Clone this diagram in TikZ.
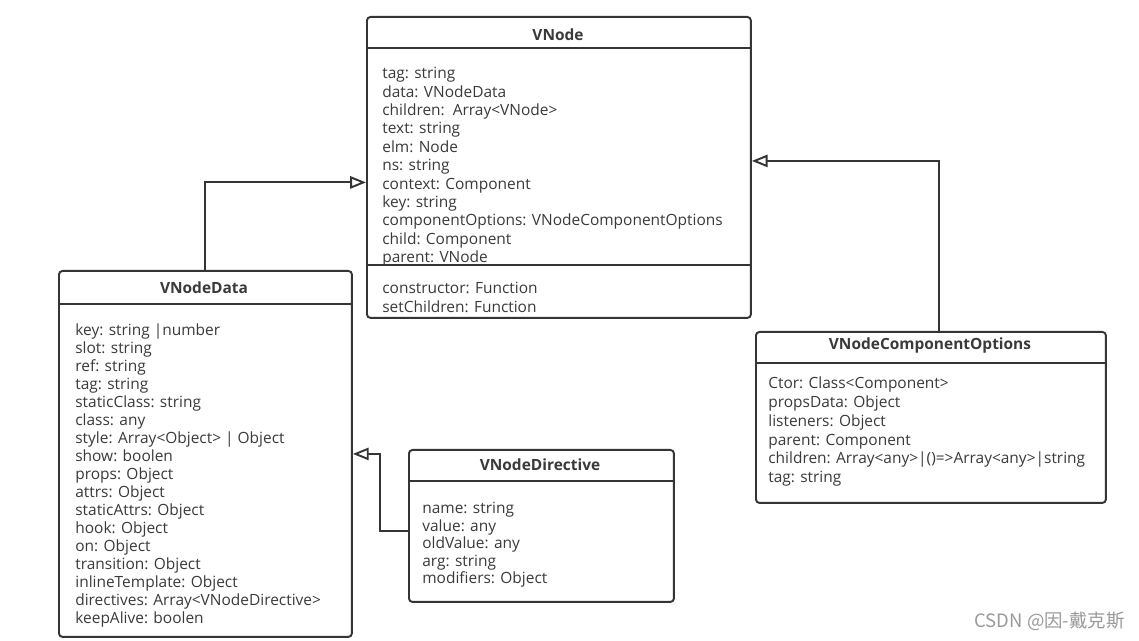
\documentclass[tikz,border=0pt]{standalone}
\usepackage{fontspec}
\setmainfont{Open Sans}
\newfontfamily\cjkfont{Noto Sans CJK SC}
\usetikzlibrary{arrows.meta}

\definecolor{boxgray}{HTML}{353535}
\definecolor{textgray}{HTML}{3A3A3A}
\definecolor{markgray}{HTML}{9A9A9A}

\tikzset{
  classbox/.style={draw=boxgray, line width=1.1pt, rounded corners=2pt,
    anchor=north west, inner sep=0pt},
  classname/.style={font=\bfseries\fontsize{8.8}{10}\selectfont, text=textgray},
  attr/.style={anchor=west, inner sep=0pt, text=textgray,
    text height=1.6ex, text depth=0.4ex,
    font=\fontsize{8.8}{10}\selectfont},
  sepline/.style={draw=boxgray, line width=1.1pt},
  inherit/.style={draw=boxgray, line width=1.1pt,
    -{Triangle[open,length=9pt,width=7pt]}},
}

\begin{document}
\begin{tikzpicture}[x=0.02cm, y=-0.02cm]
  \useasboundingbox[fill=white] (0,0) rectangle (1139,641);

  % VNode
  \node[classbox, minimum width=7.68cm, minimum height=6.02cm] (vnode) at (366,16) {};
  \node[classname] at (558,35) {VNode};
  \draw[sepline] (vnode.north west |- 0,48) -- (vnode.north east |- 0,48);
  \draw[sepline] (vnode.north west |- 0,265) -- (vnode.north east |- 0,265);
  \foreach \txt [count=\i from 0] in {tag: string, data: VNodeData,
      children:\ \ Array<VNode>, text: string, elm: Node, ns: string,
      context: Component, key: string,
      componentOptions: VNodeComponentOptions, child: Component,
      parent: VNode}
    \node[attr] at (382,{73+18.4*\i}) {\txt};
  \node[attr] at (382,288) {constructor: Function};
  \node[attr] at (382,307) {setChildren: Function};

  % VNodeData
  \node[classbox, minimum width=5.86cm, minimum height=7.32cm] (vdata) at (58,270) {};
  \node[classname] at (204,288) {VNodeData};
  \draw[sepline] (vdata.north west |- 0,304) -- (vdata.north east |- 0,304);
  \foreach \txt [count=\i from 0] in {key: string |number, slot: string,
      ref: string, tag: string, staticClass: string, class: any,
      style: Array<Object> | Object, show: boolen, props: Object,
      attrs: Object, staticAttrs: Object, hook: Object, on: Object,
      transition: Object, inlineTemplate: Object,
      directives: Array<VNodeDirective>, keepAlive: boolen}
    \node[attr] at (75,{330+18*\i}) {\txt};

  % VNodeDirective
  \node[classbox, minimum width=5.3cm, minimum height=3.04cm] (vdir) at (408,449) {};
  \node[classname] at (540,465) {VNodeDirective};
  \draw[sepline] (vdir.north west |- 0,481) -- (vdir.north east |- 0,481);
  \foreach \txt [count=\i from 0] in {name: string, value: any,
      oldValue: any, arg: string, modifiers: Object}
    \node[attr] at (422,{508+17.5*\i}) {\txt};

  % VNodeComponentOptions
  \node[classbox, minimum width=7cm, minimum height=3.42cm] (vcomp) at (755,331) {};
  \node[classname] at (930,345) {VNodeComponentOptions};
  \draw[sepline] (vcomp.north west |- 0,363) -- (vcomp.north east |- 0,363);
  \foreach \txt [count=\i from 0] in {Ctor: Class<Component>,
      propsData: Object, listeners: Object, parent: Component,
      children: Array<any>|()=>Array<any>|string, tag: string}
    \node[attr] at (768,{383+18.8*\i}) {\txt};

  % generalisations
  \draw[inherit] (vdata.north) |- ([yshift=-0.3cm]vnode.west);
  \draw[inherit] ([xshift=0.16cm]vcomp.north) |- ([yshift=0.13cm]vnode.east);
  \draw[inherit] ([yshift=-0.1cm]vdir.west) -- ++(-28,0) |- (vdata.east);

  % watermark
  \node[anchor=east, inner sep=0pt, text=markgray,
    font=\cjkfont\fontsize{10.5}{12}\selectfont] (mark) at (1125,621)
    {CSDN @因-戴克斯};
\end{tikzpicture}
\end{document}
